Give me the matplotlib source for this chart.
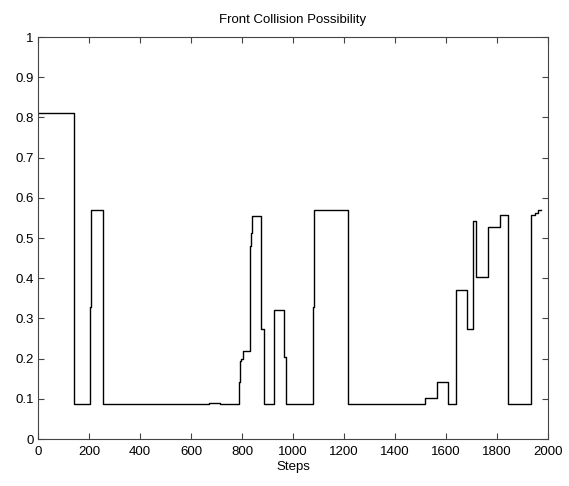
import matplotlib
matplotlib.use("Agg")
from matplotlib import pyplot as plt

# step breakpoints (Steps) and the value held from each one onward
steps = [0, 140, 205, 209, 255, 670, 714, 787, 792, 797, 805, 831, 836, 841,
         875, 888, 926, 966, 971, 1078, 1083, 1216, 1517, 1563, 1608, 1638,
         1684, 1706, 1716, 1765, 1812, 1842, 1933, 1950, 1959, 1972]
possibility = [0.812, 0.088, 0.329, 0.569, 0.088, 0.090, 0.088, 0.141, 0.193,
               0.200, 0.220, 0.480, 0.513, 0.554, 0.273, 0.088, 0.322, 0.203,
               0.088, 0.329, 0.569, 0.088, 0.102, 0.142, 0.088, 0.370, 0.273,
               0.543, 0.402, 0.528, 0.557, 0.088, 0.557, 0.562, 0.569, 0.569]

xticks = list(range(0, 2001, 200))
yticks = [i / 10 for i in range(11)]

plt.rcParams['font.family'] = ['Liberation Sans', 'DejaVu Sans']
plt.rcParams['font.size'] = 9.5

fig = plt.figure(figsize=(5.69, 4.86), dpi=100)
ax = fig.add_axes([38 / 569, 1 - 439 / 486, 510 / 569, 402 / 486])

ax.step(steps, possibility, where='post', color='black', linewidth=1.0)

ax.set_xlim(0, 2000)
ax.set_ylim(0, 1)
ax.set_xticks(xticks)
ax.set_yticks(yticks)
ax.set_yticklabels(['0'] + ['%g' % v for v in yticks[1:]])
ax.tick_params(direction='in', top=True, right=True, length=4, width=0.8,
               colors='#444444', labelcolor='black')
ax.tick_params(axis='x', pad=5)
ax.tick_params(axis='y', pad=3)
for s in ax.spines.values():
    s.set_color('#444444')
    s.set_linewidth(0.8)

ax.set_title("Front Collision Possibility", fontsize=9.5, pad=10)
ax.set_xlabel("Steps", labelpad=2)

fig.savefig("out.png", dpi=100)
